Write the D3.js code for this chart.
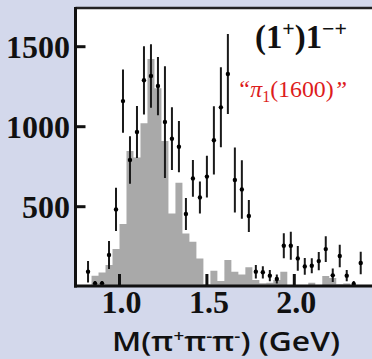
<!DOCTYPE html>
<html><head><meta charset="utf-8">
<script src="https://cdn.jsdelivr.net/npm/d3@7"></script>
<style>html,body{margin:0;padding:0;background:#d3d8eb;}svg{display:block;}</style>
</head><body>
<script>
// Data points (bin centres, GeV), intensities and symmetric errors
const massPoints = [0.82,0.86,0.90,0.94,0.98,1.02,1.06,1.10,1.14,1.18,1.22,1.26,1.30,1.34,1.38,1.42,1.46,1.50,1.54,1.58,1.62,1.66,1.70,1.74,1.78,1.82,1.86,1.90,1.94,1.98,2.02,2.06,2.10,2.14,2.18,2.22,2.26,2.30,2.34,2.38];
const intensity = [94,21,21,198,483,1160,792,967,1290,1317,1254,1029,925,875,454,677,558,688,915,1121,1329,667,608,442,94,90,69,48,256,256,177,127,131,160,235,71,192,69,17,148];
const errors = [67,15,15,88,135,198,148,163,213,198,182,349,196,160,100,115,100,130,213,250,250,203,183,100,42,38,35,28,78,88,78,52,47,57,80,42,70,35,18,70];
// Gray histogram: lower bin edges (width 0.04 GeV) and heights
const histEdges = [0.84,0.88,0.92,0.96,1.00,1.04,1.08,1.12,1.16,1.20,1.24,1.28,1.32,1.36,1.40,1.44,1.48,1.52,1.56,1.60,1.64,1.68,1.72,1.76,1.80,1.84,1.88,1.92,1.96,2.00,2.04,2.08,2.12,2.16,2.20,2.24,2.28,2.32];
const histValues = [69,88,136,236,392,848,808,1021,1423,1240,910,458,650,333,281,177,15,100,36,167,94,77,121,42,21,25,42,94,10,5,10,25,5,67,55,15,20,10];
const binWidth = 0.04;
const xTicks = [1.0,1.5,2.0];
const xTickLabels = ["1.0","1.5","2.0"];
const yTicks = [500,1000,1500];
const yTickLabels = ["500","1000","1500"];

const W = 372, H = 359;
const pL = 75.5, pT = 8, pR = 372, pB = 286;
const x = d3.scaleLinear().domain([1.0, 2.0]).range([119.5, 294.3]);
const y = d3.scaleLinear().domain([0, 1500]).range([286.7, 46.7]);

const svg = d3.select("body").append("svg").attr("width", W).attr("height", H);
svg.append("rect").attr("width", W).attr("height", H).attr("fill", "#d3d8eb");
svg.append("rect").attr("x", pL).attr("y", pT).attr("width", pR - pL).attr("height", pB - pT).attr("fill", "#ffffff");

svg.append("clipPath").attr("id","clip").append("rect").attr("x", pL).attr("y", pT).attr("width", pR-pL).attr("height", pB-pT);
const g = svg.append("g").attr("clip-path","url(#clip)");

// histogram as one stepped area (no seams between bins)
const histPts = histEdges.map((d,i) => ({m: d, v: histValues[i]}));
histPts.push({m: histEdges[histEdges.length-1] + binWidth, v: 0});
const area = d3.area().curve(d3.curveStepAfter)
  .x(d => x(d.m)).y0(y(0)).y1(d => y(d.v));
g.append("path").datum(histPts).attr("d", area).attr("fill", "#a9a9a9");

// error bars
g.selectAll("line.e").data(massPoints).join("line").attr("class","e")
  .attr("x1", d => x(d)).attr("x2", d => x(d))
  .attr("y1", (d,i) => y(intensity[i] + errors[i]))
  .attr("y2", (d,i) => y(Math.max(0, intensity[i] - errors[i])))
  .attr("stroke", "#1a1a1a").attr("stroke-width", 2);
g.selectAll("circle.p").data(massPoints).join("circle").attr("class","p")
  .attr("cx", d => x(d)).attr("cy", (d,i) => y(intensity[i]))
  .attr("r", 2.2).attr("fill", "#000");

// x ticks (inside, upward)
svg.selectAll("line.xt").data(xTicks).join("line").attr("class","xt")
  .attr("x1", d => x(d)).attr("x2", d => x(d))
  .attr("y1", pB).attr("y2", pB - 12)
  .attr("stroke", "#111").attr("stroke-width", 3);
// y ticks (inside, rightward)
svg.selectAll("line.yt").data(yTicks).join("line").attr("class","yt")
  .attr("x1", pL).attr("x2", pL + 10)
  .attr("y1", d => y(d)).attr("y2", d => y(d))
  .attr("stroke", "#111").attr("stroke-width", 3);

// frame
svg.append("line").attr("x1", pL).attr("x2", pR).attr("y1", pT).attr("y2", pT).attr("stroke", "#222").attr("stroke-width", 2.5);
svg.append("line").attr("x1", pL).attr("x2", pL).attr("y1", pT - 1).attr("y2", pB + 1.5).attr("stroke", "#111").attr("stroke-width", 3);
svg.append("line").attr("x1", pL - 1.5).attr("x2", pR).attr("y1", pB).attr("y2", pB).attr("stroke", "#111").attr("stroke-width", 3);

// tick labels
svg.selectAll("text.xl").data(xTicks).join("text").attr("class","xl")
  .attr("x", d => x(d) + 2).attr("y", 313)
  .attr("text-anchor", "middle")
  .attr("font-family", "Liberation Serif, serif").attr("font-weight", "bold").attr("font-size", 32)
  .attr("fill", "#111")
  .text((d,i) => xTickLabels[i]);
svg.selectAll("text.yl").data(yTicks).join("text").attr("class","yl")
  .attr("x", 70).attr("y", d => y(d) + 11)
  .attr("text-anchor", "end")
  .attr("font-family", "Liberation Serif, serif").attr("font-weight", "bold").attr("font-size", 32)
  .attr("fill", "#111")
  .text((d,i) => yTickLabels[i]);

// axis title
const at = svg.append("text").attr("x", 112).attr("y", 351)
  .attr("font-family", "Open Sans, sans-serif").attr("font-weight", 600).attr("font-size", 27).attr("fill", "#111")
  .attr("textLength", 228).attr("lengthAdjust", "spacingAndGlyphs");
at.append("tspan").text("M(\u03c0");
at.append("tspan").attr("font-size", 16).attr("dy", -9).text("+");
at.append("tspan").attr("dy", 9).text("\u03c0");
at.append("tspan").attr("font-size", 16).attr("dy", -9).text("-");
at.append("tspan").attr("dy", 9).text("\u03c0");
at.append("tspan").attr("font-size", 16).attr("dy", -9).text("-");
at.append("tspan").attr("dy", 9).text(") (GeV)");

// wave label
const tl = svg.append("text").attr("x", 255).attr("y", 48)
  .attr("font-family", "Liberation Serif, serif").attr("font-weight", "bold").attr("font-size", 33).attr("fill", "#111")
  .attr("textLength", 92).attr("lengthAdjust", "spacingAndGlyphs");
tl.append("tspan").text("(1");
tl.append("tspan").attr("font-size", 22).attr("dy", -12).text("+");
tl.append("tspan").attr("dy", 12).text(")1");
tl.append("tspan").attr("font-size", 22).attr("dy", -12).text("\u2212+");

// resonance label
const rl = svg.append("text").attr("x", 237).attr("y", 97)
  .attr("font-family", "Liberation Serif, serif").attr("font-size", 24).attr("fill", "#dd1c1c")
  .attr("textLength", 110).attr("lengthAdjust", "spacingAndGlyphs");
rl.append("tspan").attr("font-style", "italic").text("\u201c\u03c0");
rl.append("tspan").attr("font-size", 16).attr("dy", 5).text("1");
rl.append("tspan").attr("dy", -5).text("(1600)");
rl.append("tspan").attr("font-style", "italic").text("\u201d");
</script>
</body></html>
